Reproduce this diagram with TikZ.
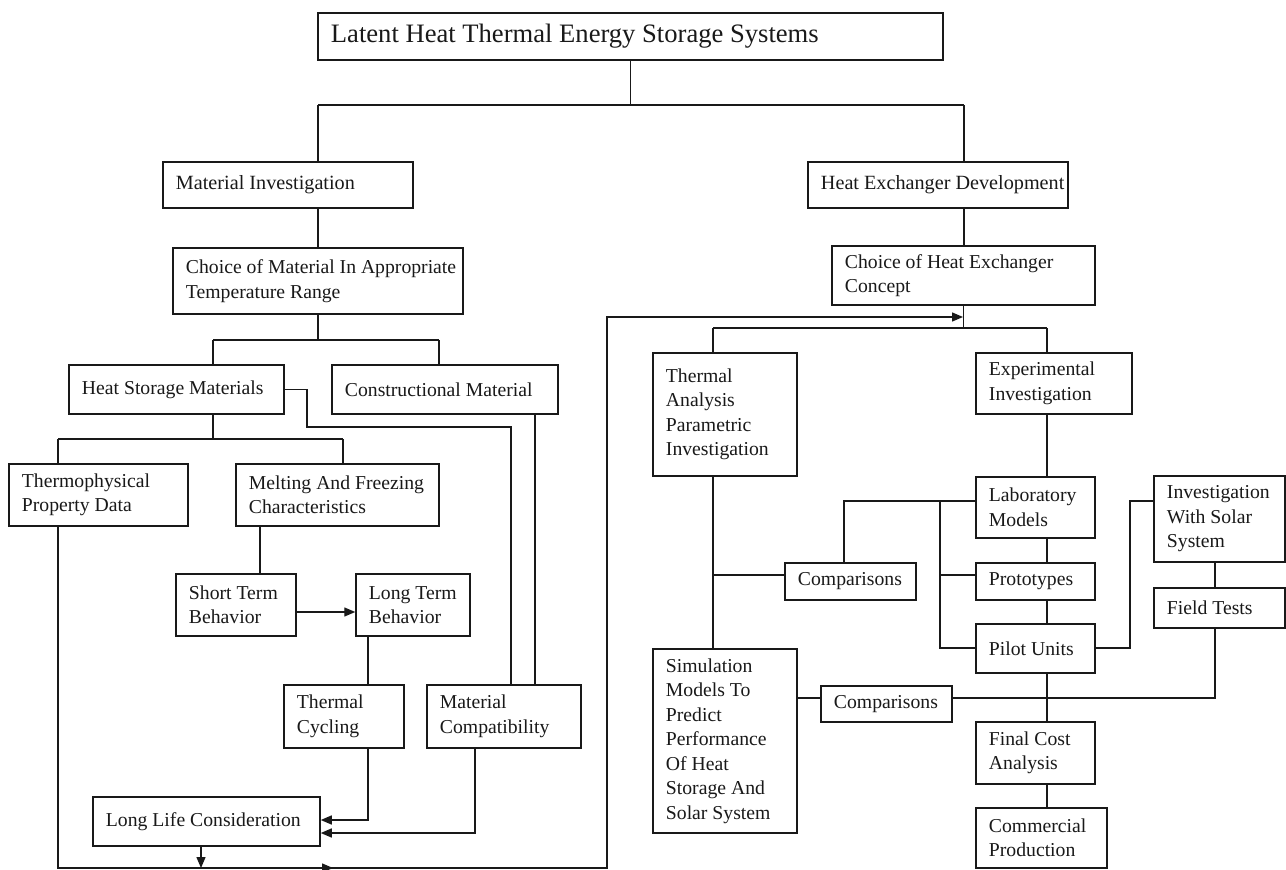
\documentclass[tikz,border=0pt]{standalone}
\usepackage{fontspec}
\setmainfont{Liberation Serif}
\usetikzlibrary{arrows.meta,calc}
\newcommand\mybox[7][]{%
 \pgfmathsetmacro\mybw{#5-#3}\pgfmathsetmacro\mybh{#6-#4}%
 \pgfmathsetmacro\mycx{(#3+#5)/2}\pgfmathsetmacro\mycy{(#4+#6)/2}%
 \node[boxshape, minimum width=\mybw pt, minimum height=\mybh pt] (#2) at (\mycx,\mycy) {};%
 \node[txt,#1] (#2-t) at ([xshift=13pt]#2.west) {#7};}
\begin{document}
\begin{tikzpicture}[x=1pt,y=-1pt, line width=1.4pt, color=black!90,
  boxshape/.style={draw, line width=1.5pt, inner sep=0pt, rectangle},
  txt/.style={anchor=west, align=left, inner sep=0pt, font=\fontsize{19.7}{24.5}\selectfont},
  bigtxt/.style={font=\fontsize{20.2}{24}\selectfont},
  titletxt/.style={font=\fontsize{26.6}{30}\selectfont},
  arr/.style={-{Triangle[length=11pt,width=9pt]}}]
\fill[white] (0,0) rectangle (1286,870);
\useasboundingbox (0,0) rectangle (1286,870);
% boxes
\mybox[titletxt]{title}{318}{13}{943}{60}{Latent Heat Thermal Energy Storage Systems}
\mybox[bigtxt]{MI}{163}{162}{413}{208}{Material Investigation}
\mybox[bigtxt]{HED}{808}{162}{1068}{208}{Heat Exchanger Development}
\mybox{CM}{173}{248}{463}{314}{Choice of Material In Appropriate\\Temperature Range}
\mybox{HSM}{69}{365}{284}{414}{Heat Storage Materials}
\mybox{CON}{332}{365}{558}{414}{Constructional Material}
\mybox{TPD}{9}{464}{188}{526}{Thermophysical\\Property Data}
\mybox{MF}{236}{464}{439}{526}{Melting And Freezing\\Characteristics}
\mybox{ST}{176}{574}{296}{636}{Short Term\\Behavior}
\mybox{LT}{356}{574}{470}{636}{Long Term\\Behavior}
\mybox{TC}{284}{685}{404}{748}{Thermal\\Cycling}
\mybox{MC}{427}{685}{581}{748}{Material\\Compatibility}
\mybox{LL}{93}{797}{320}{846}{Long Life Consideration}
\mybox{CHE}{832}{246}{1095}{305}{Choice of Heat Exchanger\\Concept}
\mybox{TA}{653}{353}{797}{476}{Thermal\\Analysis\\Parametric\\Investigation}
\mybox{EI}{976}{353}{1132}{414}{Experimental\\Investigation}
\mybox{LM}{976}{477}{1095}{538}{Laboratory\\Models}
\mybox{CMPa}{785}{563}{916}{600}{Comparisons}
\mybox{PR}{976}{563}{1095}{600}{Prototypes}
\mybox{PU}{976}{624}{1095}{673}{Pilot Units}
\mybox{SIM}{653}{649}{797}{833}{Simulation\\Models To\\Predict\\Performance\\Of Heat\\Storage And\\Solar System}
\mybox{CMPb}{821}{686}{952}{722}{Comparisons}
\mybox{FC}{976}{722}{1095}{784}{Final Cost\\Analysis}
\mybox{CP}{976}{808}{1107}{868}{Commercial\\Production}
\mybox{INV}{1154}{476}{1285}{562}{Investigation\\With Solar\\System}
\mybox{FT}{1154}{588}{1285}{628}{Field Tests}
% junctions
\coordinate (bus1L) at (318,105); \coordinate (bus1R) at (964,105);
\coordinate (bus2L) at (213,340); \coordinate (bus2R) at (439,340);
\coordinate (bus3L) at (58,439);  \coordinate (bus3R) at (343,439);
\coordinate (hs1) at (307,427);   \coordinate (hs2) at (511,427);
\coordinate (cx1) at (535,0);     \coordinate (mfx) at (260,0);
\coordinate (ltx) at (368,820);   \coordinate (mcx) at (475,833);
\coordinate (llx) at (201,868);
\coordinate (bot) at (58,868);    \coordinate (botR) at (607,868);
\coordinate (midA) at (333,868);
\coordinate (feed) at (607,317);  \coordinate (feedE) at (963,317);
\coordinate (bus4L) at (713,328); \coordinate (bus4R) at (1047,328);
\coordinate (lab1) at (844,501);  \coordinate (lab2) at (940,501);
\coordinate (lab3) at (940,575);  \coordinate (lab4) at (940,648);
\coordinate (ta1) at (713,575);
\coordinate (pu1) at (1130,648);  \coordinate (pu2) at (1130,501);
\coordinate (ft1) at (1215,698);
% left tree
\draw (title.south) -- (title.south |- bus1L);
\draw (bus1L) -- (bus1R);
\draw (bus1L) -- (bus1L |- MI.north);
\draw (bus1R) -- (bus1R |- HED.north);
\draw (bus1L |- MI.south) -- (bus1L |- CM.north);
\draw (CM.south) -- (CM.south |- bus2L);
\draw (bus2L) -- (bus2R);
\draw (bus2L) -- (bus2L |- HSM.north);
\draw (bus2R) -- (bus2R |- CON.north);
\draw (bus2L |- HSM.south) -- (bus2L |- bus3L);
\draw (bus3L) -- (bus3R);
\draw (bus3L) -- (bus3L |- TPD.north);
\draw (bus3R) -- (bus3R |- MF.north);
\draw (HSM.east) -| (hs1) -- (hs2) -- (hs2 |- MC.north);
\draw (cx1 |- CON.south) -- (cx1 |- MC.north);
\draw (mfx |- MF.south) -- (mfx |- ST.north);
\draw[arr] ([yshift=-7pt]ST.east) -- ([yshift=-7pt]LT.west);
\draw (ltx |- LT.south) -- (ltx |- TC.north);
\draw[arr] (ltx |- TC.south) -- (ltx) -- (ltx -| LL.east);
\draw[arr] (mcx |- MC.south) -- (mcx) -- (mcx -| LL.east);
\draw[arr] (llx |- LL.south) -- (llx);
\draw[arr] (bot |- TPD.south) -- (bot) -- (botR) -- (feed) -- (feedE);
\draw[arr] (bot) -- (midA);
% right tree
\draw (bus1R |- HED.south) -- (bus1R |- CHE.north);
\draw (CHE.south) -- (CHE.south |- bus4L);
\draw (bus4L) -- (bus4R);
\draw (bus4L) -- (bus4L |- TA.north);
\draw (bus4R) -- (bus4R |- EI.north);
\draw (bus4R |- EI.south) -- (bus4R |- LM.north);
\draw (bus4R |- LM.south) -- (bus4R |- PR.north);
\draw (bus4R |- PR.south) -- (bus4R |- PU.north);
\draw (bus4R |- PU.south) -- (bus4R |- FC.north);
\draw (bus4R |- FC.south) -- (bus4R |- CP.north);
\draw (bus4L |- TA.south) -- (bus4L |- SIM.north);
\draw (ta1) -- (ta1 -| CMPa.west);
\draw (lab1 -| LM.west) -- (lab1) -- (lab1 |- CMPa.north);
\draw (lab2) -- (lab4) -- (lab4 -| PU.west);
\draw (lab3) -- (lab3 -| PR.west);
\draw (lab4 -| PU.east) -- (pu1) -- (pu2) -- (pu2 -| INV.west);
\draw (ft1 |- INV.south) -- (ft1 |- FT.north);
\draw (ft1 |- FT.south) -- (ft1) -- (ft1 -| CMPb.east);
\draw (ft1 -| SIM.east) -- (ft1 -| CMPb.west);
\end{tikzpicture}
\end{document}
